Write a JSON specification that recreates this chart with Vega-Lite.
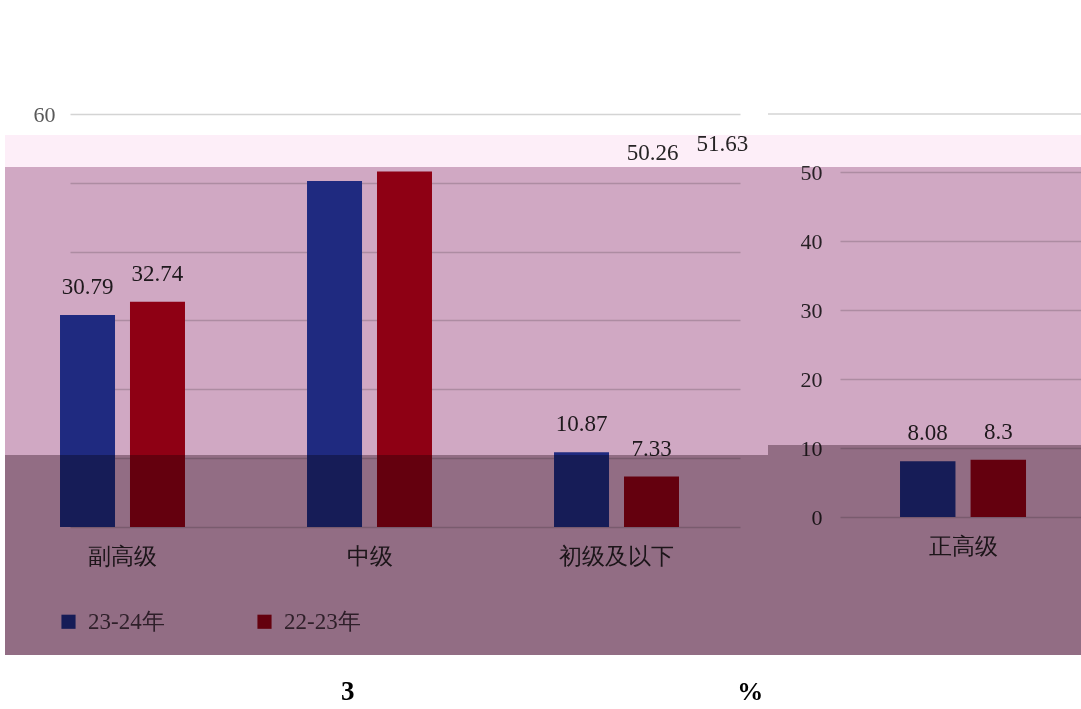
{
  "$schema": "https://vega.github.io/schema/vega-lite/v6.json",
  "background": "white",
  "padding": {"left": 5, "top": 103, "right": 0, "bottom": 0},
  "config": {
    "view": {"stroke": null},
    "font": "Liberation Serif",
    "text": {"font": "Liberation Serif", "fontSize": 23, "color": "#262626"}
  },
  "data": {
    "values": [
      {"level": "正高级", "year": "23-24年", "value": 8.08},
      {"level": "正高级", "year": "22-23年", "value": 8.3},
      {"level": "副高级", "year": "23-24年", "value": 30.79},
      {"level": "副高级", "year": "22-23年", "value": 32.74},
      {"level": "中级", "year": "23-24年", "value": 50.26},
      {"level": "中级", "year": "22-23年", "value": 51.63},
      {"level": "初级及以下", "year": "23-24年", "value": 10.87},
      {"level": "初级及以下", "year": "22-23年", "value": 7.33}
    ]
  },
  "bounds": "flush",
  "spacing": 0,
  "resolve": {
    "scale": {"x": "independent", "y": "independent", "xOffset": "independent"},
    "axis": {"x": "independent", "y": "independent"}
  },
  "hconcat": [
    {
      "width": 763,
      "height": 541,
      "transform": [{"filter": "datum.level != '正高级'"}],
      "title": {"text": "3", "orient": "bottom", "anchor": "start", "dx": 336, "offset": 24, "fontSize": 27, "fontWeight": "bold", "font": "Liberation Serif", "color": "black"},
      "layer": [
        {
          "mark": {"type": "bar"},
          "encoding": {
            "x": {
              "field": "level", "type": "nominal",
              "sort": ["副高级", "中级", "初级及以下"],
              "scale": {"paddingInner": 0.494, "paddingOuter": 0.2915, "align": 0.382},
              "axis": {"orient": "bottom", "offset": -128, "ticks": false, "domain": false, "labelPadding": 18, "labelAngle": 0, "labelFontSize": 23, "labelColor": "#303030", "labelFont": "Liberation Serif", "title": null}
            },
            "xOffset": {"field": "year", "sort": ["23-24年", "22-23年"], "scale": {"paddingInner": 0.214, "paddingOuter": 0}},
            "y": {
              "field": "value", "type": "quantitative",
              "scale": {"domain": [-18.6, 60], "nice": false, "zero": false},
              "axis": {"orient": "left", "offset": -735, "values": [0, 10, 20, 30, 40, 50, 60], "grid": false, "domain": false, "tickSize": 670, "tickColor": "#d4d4d4", "tickWidth": 1.5, "labelPadding": 15, "labelExpr": "datum.value == 60 ? '60' : ''", "labelFontSize": 22, "labelColor": "#595959", "labelFont": "Liberation Serif", "title": null}
            },
            "y2": {"datum": 0},
            "color": {
              "field": "year", "type": "nominal",
              "scale": {"domain": ["23-24年", "22-23年"], "range": ["#2640a7", "#ae001a"]},
              "legend": {
                "orient": "none", "legendX": 52, "legendY": 496, "direction": "horizontal", "title": null,
                "symbolType": "square", "symbolSize": 200, "symbolStrokeWidth": 0,
                "labelFontSize": 23, "labelFont": "Liberation Serif", "labelColor": "#2e1f29",
                "labelOffset": 8, "columnPadding": 88,
                "encode": {"symbols": {"update": {"blend": {"value": "multiply"}}}}
              }
            }
          }
        },
        {
          "transform": [{"filter": "datum.level != '中级'"}],
          "mark": {"type": "text", "dy": -28},
          "encoding": {
            "x": {"field": "level", "type": "nominal", "sort": ["副高级", "中级", "初级及以下"]},
            "xOffset": {"field": "year", "sort": ["23-24年", "22-23年"]},
            "y": {"field": "value", "type": "quantitative"},
            "text": {"field": "value", "type": "nominal"}
          }
        },
        {
          "transform": [{"filter": "datum.level == '中级'"}],
          "mark": {"type": "text", "dy": -28, "dx": 318},
          "encoding": {
            "x": {"field": "level", "type": "nominal", "sort": ["副高级", "中级", "初级及以下"]},
            "xOffset": {"field": "year", "sort": ["23-24年", "22-23年"]},
            "y": {"field": "value", "type": "quantitative"},
            "text": {"field": "value", "type": "nominal"}
          }
        },
        {
          "data": {"values": [{}]},
          "mark": {"type": "rect", "color": "#fdeef8", "blend": "multiply"},
          "encoding": {"y": {"datum": 56.95, "type": "quantitative"}, "y2": {"datum": 52.3}}
        },
        {
          "data": {"values": [{}]},
          "mark": {"type": "rect", "color": "#d0a8c3", "blend": "multiply"},
          "encoding": {"y": {"datum": 52.3, "type": "quantitative"}, "y2": {"datum": 10.46}}
        },
        {
          "data": {"values": [{}]},
          "mark": {"type": "rect", "color": "#926d84", "blend": "multiply"},
          "encoding": {"y": {"datum": 10.46, "type": "quantitative"}, "y2": {"datum": -18.6}}
        }
      ]
    },
    {
      "width": 313,
      "height": 541,
      "transform": [{"filter": "datum.level == '正高级'"}],
      "title": {"text": "%", "orient": "bottom", "anchor": "start", "dx": -30, "offset": 24, "fontSize": 26, "fontWeight": "bold", "font": "Liberation Serif", "color": "black"},
      "layer": [
        {
          "mark": {"type": "bar"},
          "encoding": {
            "x": {
              "field": "level", "type": "nominal",
              "scale": {"paddingInner": 0, "paddingOuter": 0.742, "align": 0.706},
              "axis": {"orient": "bottom", "offset": -138, "ticks": false, "domain": false, "labelPadding": 18, "labelAngle": 0, "labelFontSize": 23, "labelColor": "#303030", "labelFont": "Liberation Serif", "title": null}
            },
            "xOffset": {"field": "year", "sort": ["23-24年", "22-23年"], "scale": {"paddingInner": 0.214, "paddingOuter": 0}},
            "y": {
              "field": "value", "type": "quantitative",
              "scale": {"domain": [-20, 58.41], "nice": false, "zero": false},
              "axis": {"orient": "left", "offset": -313, "values": [0, 10, 20, 30, 40, 50], "grid": false, "domain": false, "tickSize": 241, "tickColor": "#d4d4d4", "tickWidth": 1.5, "labelPadding": 18, "labelFontSize": 22, "labelColor": "#303030", "labelFont": "Liberation Serif", "title": null}
            },
            "y2": {"datum": 0},
            "color": {"field": "year", "type": "nominal"}
          }
        },
        {
          "mark": {"type": "text", "dy": -28},
          "encoding": {
            "x": {"field": "level", "type": "nominal"},
            "xOffset": {"field": "year", "sort": ["23-24年", "22-23年"]},
            "y": {"field": "value", "type": "quantitative"},
            "text": {"field": "value", "type": "nominal"}
          }
        },
        {
          "data": {"values": [{}]},
          "mark": {"type": "rule", "color": "#d4d4d4", "strokeWidth": 1.5},
          "encoding": {"y": {"datum": 58.41, "type": "quantitative"}}
        },
        {
          "data": {"values": [{}]},
          "mark": {"type": "rect", "color": "#fdeef8", "blend": "multiply"},
          "encoding": {"y": {"datum": 55.36, "type": "quantitative"}, "y2": {"datum": 50.72}}
        },
        {
          "data": {"values": [{}]},
          "mark": {"type": "rect", "color": "#d0a8c3", "blend": "multiply"},
          "encoding": {"y": {"datum": 50.72, "type": "quantitative"}, "y2": {"datum": 10.43}}
        },
        {
          "data": {"values": [{}]},
          "mark": {"type": "rect", "color": "#926d84", "blend": "multiply"},
          "encoding": {"y": {"datum": 10.43, "type": "quantitative"}, "y2": {"datum": -20}}
        }
      ]
    }
  ]
}
